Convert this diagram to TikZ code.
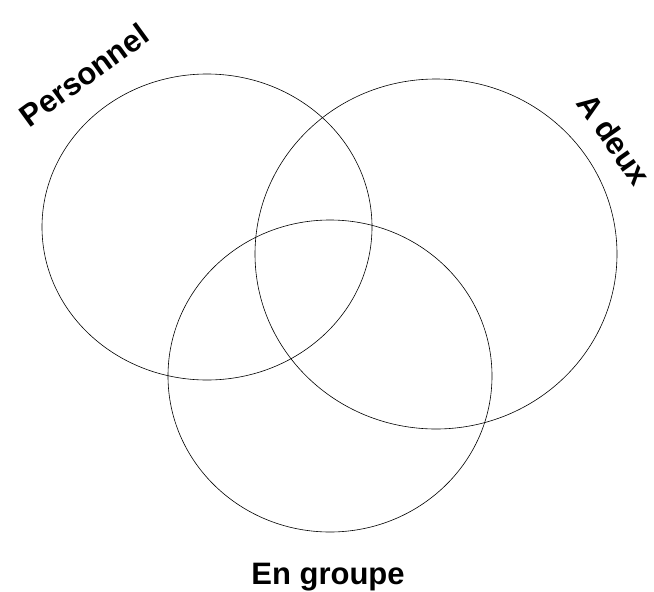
\documentclass[tikz,border=0pt]{standalone}
\usepackage{fontspec}
\setmainfont{Liberation Sans}
\begin{document}
\begin{tikzpicture}[x=1pt,y=-1pt,
  ring/.style={draw=black, line width=0.6pt},
  lab/.style={font=\fontsize{31}{31}\selectfont\bfseries, inner sep=0pt}]
\useasboundingbox (0,0) rectangle (654,592);
\draw[ring] (207,227) ellipse [x radius=165pt, y radius=153pt];
\draw[ring] (436,254) ellipse [x radius=181pt, y radius=175pt];
\draw[ring] (330,376) ellipse [x radius=162pt, y radius=156pt];
\node[lab, rotate=36] (personnel) at (84,75) {Personnel};
\node[lab, rotate=-55] (adeux) at (614,139) {A deux};
\node[lab] (groupe) at (328,577) {En groupe};
\end{tikzpicture}
\end{document}
